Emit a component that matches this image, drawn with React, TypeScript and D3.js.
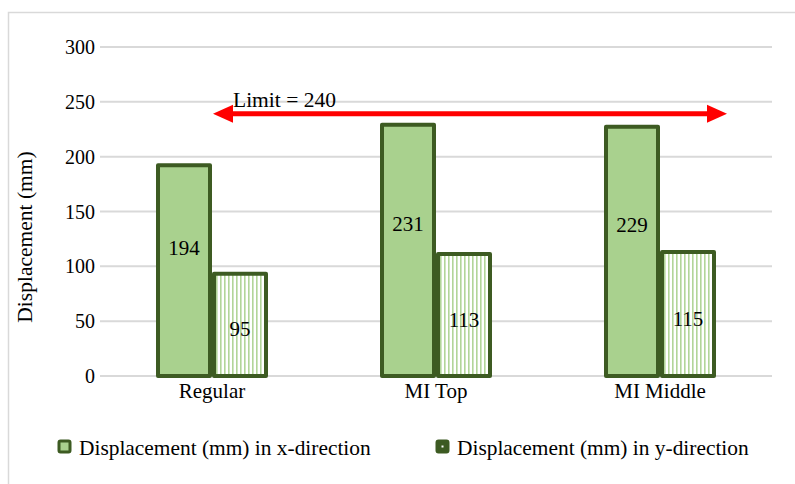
import React from "react";
import * as d3 from "d3";

const categories = ["Regular", "MI Top", "MI Middle"];
const seriesNames = ["Displacement (mm) in x-direction", "Displacement (mm) in y-direction"];
const xValues = [194, 231, 229];
const yValues = [95, 113, 115];
const yTicks = [0, 50, 100, 150, 200, 250, 300];
const limitValue = 240;
const limitLabel = "Limit = 240";

const W = 795, H = 484;
const plotLeft = 100, plotRight = 772, plotTop = 47, plotBottom = 376;
const FONT = "'Times New Roman', 'Liberation Serif', serif";
const dark = "#3d5b22";
const light = "#a9d18e";

export default function App() {
  const x0 = d3.scaleBand<string>().domain(categories).range([plotLeft, plotRight]).paddingInner(0).paddingOuter(0);
  const x1 = d3.scaleBand<string>().domain(["x", "y"]).range([0, x0.bandwidth()]).paddingInner(0).paddingOuter(1.0);
  const y = d3.scaleLinear().domain([0, 300]).range([plotBottom, plotTop]);
  const bw = x1.bandwidth();

  const yLimit = y(limitValue);
  const arrowL = 213, arrowR = 727;

  return (
    <svg width={W} height={H} style={{ position: "absolute", left: 0, top: 0, background: "#fff" }}>
      <defs>
        <pattern id="stripes" patternUnits="userSpaceOnUse" width={4} height={10}>
          <rect width={4} height={10} fill="#ffffff" />
          <rect x={0} width={1.6} height={10} fill="#b2d598" />
        </pattern>
      </defs>
      <rect x={0} y={0} width={W} height={H} fill="#fff" />
      <path d={`M8.5,${H} L8.5,12.5 L${W},12.5`} fill="none" stroke="#d9d9d9" strokeWidth={1.5} />
      {yTicks.map((t) => (
        <line key={t} x1={plotLeft} x2={plotRight} y1={y(t)} y2={y(t)} stroke="#d9d9d9" strokeWidth={2} />
      ))}
      {yTicks.map((t) => (
        <text key={"l" + t} x={95} y={y(t) + 7} textAnchor="end" fontFamily={FONT} fontSize={20} fill="#000">
          {t}
        </text>
      ))}
      <text transform={`translate(32,${237}) rotate(-90)`} textAnchor="middle" fontFamily={FONT} fontSize={21.5} fill="#000">
        Displacement (mm)
      </text>
      {categories.map((c, i) => {
        const gx = x0(c)!;
        const xv = xValues[i], yv = yValues[i];
        const bxX = gx + x1("x")!;
        const bxY = gx + x1("y")!;
        return (
          <g key={c}>
            <rect x={bxX + 2} y={y(xv) + 2} width={bw - 4} height={y(0) - y(xv) - 2} fill={light} stroke={dark} strokeWidth={4} strokeLinejoin="round" />
            <rect x={bxY + 2} y={y(yv) + 2} width={bw - 4} height={y(0) - y(yv) - 2} fill="url(#stripes)" stroke={dark} strokeWidth={4} strokeLinejoin="round" />
            <text x={bxX + bw / 2} y={y(xv * 0.6) + 7} textAnchor="middle" fontFamily={FONT} fontSize={21} fill="#000">
              {xv}
            </text>
            <text x={bxY + bw / 2} y={y(yv * 0.45) + 7} textAnchor="middle" fontFamily={FONT} fontSize={21} fill="#000">
              {yv}
            </text>
            <text x={gx + x0.bandwidth() / 2} y={398} textAnchor="middle" fontFamily={FONT} fontSize={21} fill="#000">
              {c}
            </text>
          </g>
        );
      })}
      <line x1={arrowL + 14} x2={arrowR - 14} y1={yLimit + 1} y2={yLimit + 1} stroke="#ff0000" strokeWidth={5} />
      <path d={`M${arrowL},${yLimit + 1} L${arrowL + 20},${yLimit - 8} L${arrowL + 20},${yLimit + 10} Z`} fill="#ff0000" />
      <path d={`M${arrowR},${yLimit + 1} L${arrowR - 20},${yLimit - 8} L${arrowR - 20},${yLimit + 10} Z`} fill="#ff0000" />
      <text x={233} y={107} fontFamily={FONT} fontSize={21.5} fill="#000">
        {limitLabel}
      </text>
      <g>
        <rect x={59} y={441} width={11} height={11} rx={1.5} fill={light} stroke={dark} strokeWidth={3} />
        <text x={79} y={455} fontFamily={FONT} fontSize={21.4} fill="#000">{seriesNames[0]}</text>
        <rect x={437} y={441} width={11} height={11} rx={1.5} fill={dark} stroke={dark} strokeWidth={3} />
        <rect x={441.5} y={445.5} width={2} height={2} fill="#fff" />
        <text x={457} y={455} fontFamily={FONT} fontSize={21.4} fill="#000">{seriesNames[1]}</text>
      </g>
    </svg>
  );
}
